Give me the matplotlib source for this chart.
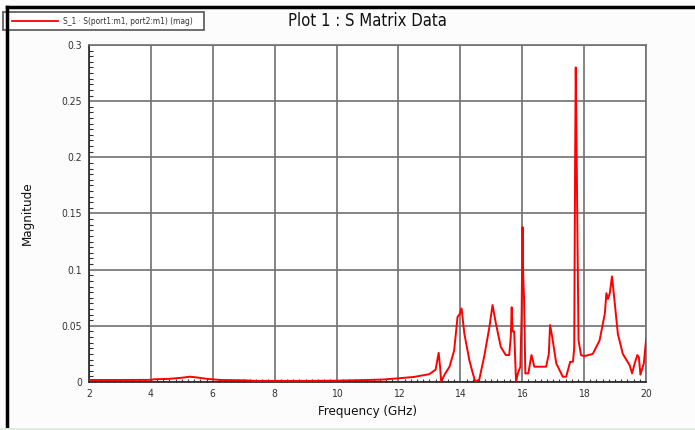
import matplotlib
matplotlib.use("Agg")
import matplotlib.pyplot as plt
from matplotlib.lines import Line2D
from matplotlib.patches import Rectangle
import numpy as np

plt.rcParams['font.family'] = ['DejaVu Sans']
plt.rcParams['font.stretch'] = 'condensed'

title = "Plot 1 : S Matrix Data"
legend_label = "S_1 \u00b7 S(port1:m1, port2:m1) (mag)"
x_label = "Frequency (GHz)"
y_label = "Magnitude"

x_ticks = [2, 4, 6, 8, 10, 12, 14, 16, 18, 20]
y_ticks = [0, 0.05, 0.1, 0.15, 0.2, 0.25, 0.3]
y_tick_labels = ["0", "0.05", "0.1", "0.15", "0.2", "0.25", "0.3"]

freq = [2.0, 3.0, 4.0, 4.1, 4.6, 5.0, 5.26, 5.5, 5.84, 6.25, 7.0, 7.4, 8.0, 9.0,
        10.0, 10.5, 11.0, 11.5, 12.0, 12.5, 13.0, 13.2, 13.3, 13.35, 13.38, 13.5,
        13.65, 13.8, 13.91, 13.97, 14.04, 14.13, 14.29, 14.4, 14.48, 14.61, 14.77,
        14.94, 15.04, 15.15, 15.31, 15.47, 15.58, 15.63, 15.66, 15.69, 15.74, 15.8,
        15.86, 15.94, 15.98, 16.01, 16.03, 16.06, 16.1, 16.2, 16.26, 16.3, 16.39,
        16.5, 16.77, 16.86, 16.9, 16.97, 17.1, 17.31, 17.42, 17.55, 17.64, 17.68,
        17.71, 17.73, 17.76, 17.8, 17.82, 17.9, 18.0, 18.28, 18.5, 18.67, 18.72,
        18.77, 18.83, 18.9, 18.98, 19.09, 19.25, 19.47, 19.55, 19.65, 19.72, 19.77,
        19.82, 19.93, 20.0]

mag = [0.0018, 0.0018, 0.0019, 0.0024, 0.0028, 0.0038, 0.0047, 0.0040, 0.0027, 0.0018,
       0.0015, 0.0010, 0.0010, 0.0010, 0.0012, 0.0015, 0.0018, 0.0022, 0.0033, 0.0045,
       0.0070, 0.0110, 0.0260, 0.0120, 0.0005, 0.0070, 0.0136, 0.028, 0.058, 0.060,
       0.0655, 0.043, 0.0196, 0.008, 0.0005, 0.002, 0.0225, 0.049, 0.0685, 0.052,
       0.031, 0.024, 0.024, 0.040, 0.0665, 0.045, 0.045, 0.0005, 0.0077, 0.0136,
       0.06, 0.138, 0.097, 0.073, 0.0077, 0.0077, 0.018, 0.024, 0.0136, 0.0136,
       0.0136, 0.025, 0.0507, 0.040, 0.0166, 0.0047, 0.0047, 0.018, 0.018, 0.030,
       0.20, 0.28, 0.20, 0.09, 0.037, 0.024, 0.023, 0.025, 0.037, 0.061,
       0.079, 0.074, 0.079, 0.094, 0.073, 0.043, 0.025, 0.015, 0.0077, 0.018,
       0.024, 0.022, 0.0065, 0.0166, 0.037]

W, H = 695, 430
fig = plt.figure(figsize=(W / 100, H / 100), dpi=100, facecolor="#fcfcfc")

left, right, top, bottom = 89, 646, 45, 382
ax = fig.add_axes([left / W, 1 - bottom / H, (right - left) / W, (bottom - top) / H])
ax.set_facecolor("white")

ax.plot(freq, mag, color="red", lw=1.4, zorder=3)

ax.set_xlim(2, 20)
ax.set_ylim(0, 0.3)
ax.set_xticks(x_ticks)
ax.set_xticklabels([str(t) for t in x_ticks])
ax.set_yticks(y_ticks)
ax.set_yticklabels(y_tick_labels)
ax.set_xticks(np.arange(2, 20.01, 0.2), minor=True)
ax.set_yticks(np.arange(0, 0.3001, 0.005), minor=True)
ax.grid(True, which="major", color="#707070", lw=1.2)
ax.tick_params(which="major", length=0, labelsize=7.5, colors="#333333", pad=5)
ax.tick_params(which="minor", direction="in", length=3, color="#333333", width=0.8)
ax.tick_params(axis="x", which="minor", length=2)
ax.tick_params(top=False, right=False, which="both")

for s in ["left", "bottom"]:
    ax.spines[s].set_color("#222222")
    ax.spines[s].set_linewidth(1.2)
for s in ["top", "right"]:
    ax.spines[s].set_color("#707070")
    ax.spines[s].set_linewidth(1.2)

fig.text(367 / W, 1 - 21 / H, title, ha="center", va="center", fontsize=12, color="#111111")
fig.text(367 / W, 1 - 412 / H, x_label, ha="center", va="center", fontsize=9.5, color="#111111")
fig.text(27 / W, 1 - 213 / H, y_label, ha="center", va="center", rotation=90, fontsize=9.5, color="#111111")

# Legend box
fig.patches.append(Rectangle((3 / W, 1 - 30 / H), 201 / W, 18 / H, transform=fig.transFigure,
                             facecolor="white", edgecolor="#555555", lw=1.2))
fig.lines.append(Line2D([12 / W, 58 / W], [1 - 21 / H, 1 - 21 / H], transform=fig.transFigure,
                        color="red", lw=1.3))
fig.text(63 / W, 1 - 21 / H, legend_label, ha="left", va="center", fontsize=6, color="#333333")

# Outer frame
fig.lines.append(Line2D([6.5 / W, 6.5 / W], [0, 1 - 7 / H], transform=fig.transFigure, color="black", lw=2.5))
fig.lines.append(Line2D([6.5 / W, 1], [1 - 7 / H, 1 - 7 / H], transform=fig.transFigure, color="black", lw=2.5))
fig.lines.append(Line2D([0, 1], [1.5 / H, 1.5 / H], transform=fig.transFigure, color="#e0ece0", lw=1.5))

fig.savefig("out.png", dpi=100, facecolor=fig.get_facecolor())
